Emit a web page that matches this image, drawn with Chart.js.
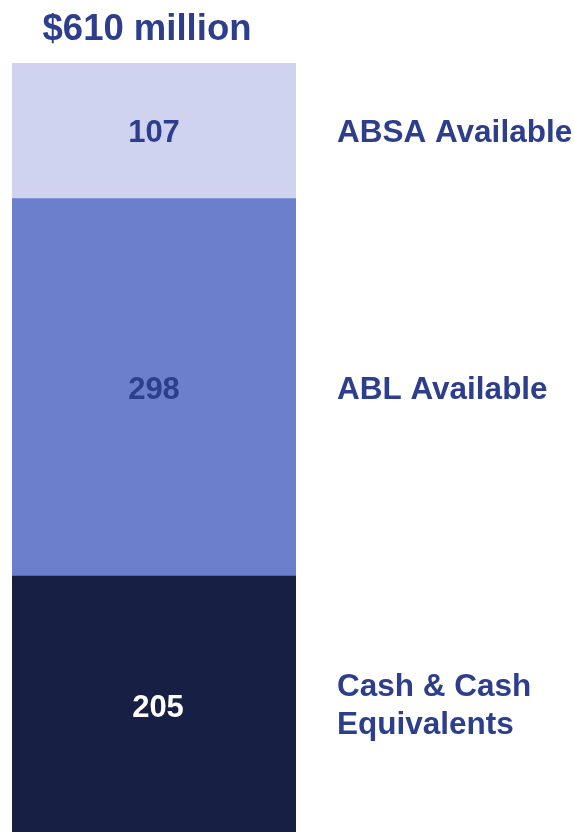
<!DOCTYPE html>
<html>
<head>
<meta charset="utf-8">
<script src="https://cdn.jsdelivr.net/npm/chart.js@4/dist/chart.umd.min.js"></script>
<style>
  body { margin: 0; background: #ffffff; }
  #wrap { width: 574px; height: 832px; }
</style>
</head>
<body>
<div id="wrap"><canvas id="liquidity" width="574" height="832"></canvas></div>
<script>
const titleText = "$610 million";
const categories = ["Liquidity"];

// stacked from bottom to top
const seriesNames = [["Cash & Cash", "Equivalents"], ["ABL Available"], ["ABSA Available"]];
const cashValues = [205];
const ablValues = [298];
const absaValues = [107];

const segColors = ["#172044", "#6b7fcc", "#cfd3ef"];
const valueColors = ["#ffffff", "#2d3e8c", "#2d3e8c"];
const textBlue = "#2d3e8c";

// draws the numbers inside the bar, the names at the right, and the total on top
const labelsPlugin = {
  id: "labelsPlugin",
  afterDatasetsDraw(chart) {
    const ctx = chart.ctx;
    const area = chart.chartArea;
    ctx.save();
    ctx.textBaseline = "middle";
    chart.data.datasets.forEach((ds, i) => {
      const bar = chart.getDatasetMeta(i).data[0];
      const top = Math.max(bar.y, area.top);
      const midY = (top + bar.base) / 2;
      ctx.fillStyle = valueColors[i];
      ctx.font = "bold 31px 'Liberation Sans', Arial, sans-serif";
      ctx.textAlign = "center";
      ctx.fillText(String(ds.data[0]), bar.x + (i === 0 ? 4 : 0), midY + 3);

      const lines = seriesNames[i];
      ctx.fillStyle = textBlue;
      ctx.font = "bold 31.5px 'Liberation Sans', Arial, sans-serif";
      ctx.textAlign = "left";
      const lh = 38;
      const startY = midY - (i === 0 ? 3 : 0) - (lines.length - 1) * lh / 2;
      lines.forEach((t, k) => {
        ctx.fillText(t, area.right + 41, startY + k * lh + 3);
      });
    });

    ctx.fillStyle = textBlue;
    ctx.font = "bold 36.5px 'Liberation Sans', Arial, sans-serif";
    ctx.textAlign = "center";
    ctx.fillText(titleText, 147, 30);
    ctx.restore();
  }
};

const ctx = document.getElementById("liquidity").getContext("2d");
const myChart = new Chart(ctx, {
  type: "bar",
  data: {
    labels: categories,
    datasets: [
      { label: seriesNames[0].join(" "), data: cashValues, backgroundColor: segColors[0] },
      { label: seriesNames[1].join(" "), data: ablValues, backgroundColor: segColors[1] },
      { label: seriesNames[2].join(" "), data: absaValues, backgroundColor: segColors[2] }
    ]
  },
  options: {
    responsive: false,
    animation: false,
    layout: { padding: { left: 12, right: 278, top: 63, bottom: 0 } },
    datasets: { bar: { barPercentage: 1, categoryPercentage: 1, borderWidth: 0 } },
    plugins: {
      legend: { display: false },
      tooltip: { enabled: false },
      title: { display: false }
    },
    scales: {
      x: { stacked: true, display: false },
      // the bar runs a little past the bottom edge in the reference
      y: { stacked: true, display: false, min: 3, max: 610 }
    }
  },
  plugins: [labelsPlugin]
});
</script>
</body>
</html>
